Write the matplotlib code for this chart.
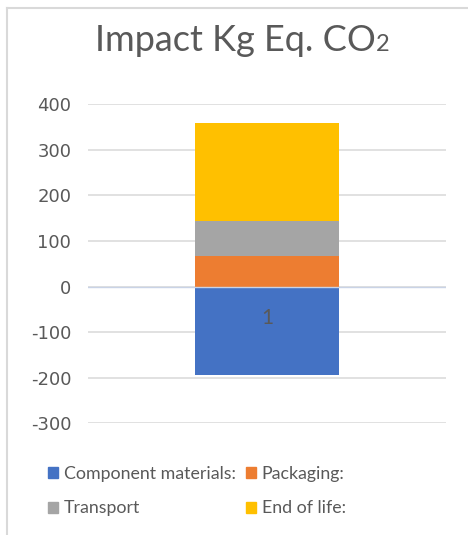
import numpy as np
import matplotlib.pyplot as plt
from matplotlib.patches import Patch
from matplotlib.lines import Line2D

plt.rcParams['font.family'] = ['Lato', 'DejaVu Sans']

categories = ['1']
series = ['Component materials:', 'Packaging:', 'Transport', 'End of life:']
values = [-195, 68, 77, 213]
colors = ['#4472c4', '#ed7d31', '#a5a5a5', '#ffc000']
yticks = [-300, -200, -100, 0, 100, 200, 300, 400]

text_col = '#595959'
grid_col = '#d9d9d9'

fig = plt.figure(figsize=(4.68, 5.35), dpi=100)
ax = fig.add_axes([0.188, 0.2088, 0.765, 0.5962])

# stacked bar: negatives go down from 0, positives stack up
x = np.arange(len(categories))
pos_base = np.zeros(len(categories))
neg_base = np.zeros(len(categories))
for name, v, c in zip(series, values, colors):
    if v >= 0:
        ax.bar(x, v, bottom=pos_base, width=0.402, color=c, label=name, zorder=2)
        pos_base += v
    else:
        ax.bar(x, v, bottom=neg_base, width=0.402, color=c, label=name, zorder=2)
        neg_base += v

ax.axhline(0, color='#c9d3e6', lw=1, zorder=3)

ax.set_xlim(-0.5, 0.5)
ax.set_ylim(-300, 400)
ax.set_yticks(yticks)
ax.set_yticklabels([str(t) for t in yticks], fontsize=13, color=text_col,
                   family='DejaVu Sans')
ax.tick_params(axis='y', length=0, pad=12)
ax.grid(axis='y', color=grid_col, lw=1.1, zorder=0)
for s in ax.spines.values():
    s.set_visible(False)
ax.set_xticks([])

# category label sits just under the zero line, on top of the bar
for xi, cat in zip(x, categories):
    ax.annotate(cat, xy=(xi, 0), xytext=(0, -22.5), textcoords='offset points',
                ha='center', va='center', fontsize=15, color=text_col, zorder=4)

# title with a small "2" sitting on the baseline
t = fig.text(0.2035, 0.905, 'Impact Kg Eq. CO', ha='left', va='baseline',
             fontsize=26, color=text_col)
fig.canvas.draw()
bb = t.get_window_extent().transformed(fig.transFigure.inverted())
fig.text(bb.x1 + 0.0005, 0.905, '2', ha='left', va='baseline',
         fontsize=17, color=text_col)

# legend laid out like Excel: two rows, two columns
handles = [Patch(color=c) for c in colors]
order = [0, 2, 1, 3]
fig.legend([handles[i] for i in order], [series[i] for i in order],
           ncol=2, loc='center left', bbox_to_anchor=(0.068, 0.082),
           frameon=False, fontsize=12.8, labelcolor=text_col,
           handlelength=0.6, handleheight=0.6, handletextpad=0.3,
           columnspacing=0.55, labelspacing=1.05)

# chart area border (left and top)
fig.add_artist(Line2D([0.015, 0.015], [0, 0.985], color=grid_col, lw=1.5))
fig.add_artist(Line2D([0.015, 1.0], [0.985, 0.985], color=grid_col, lw=1.5))

fig.savefig('out.png', dpi=100)
